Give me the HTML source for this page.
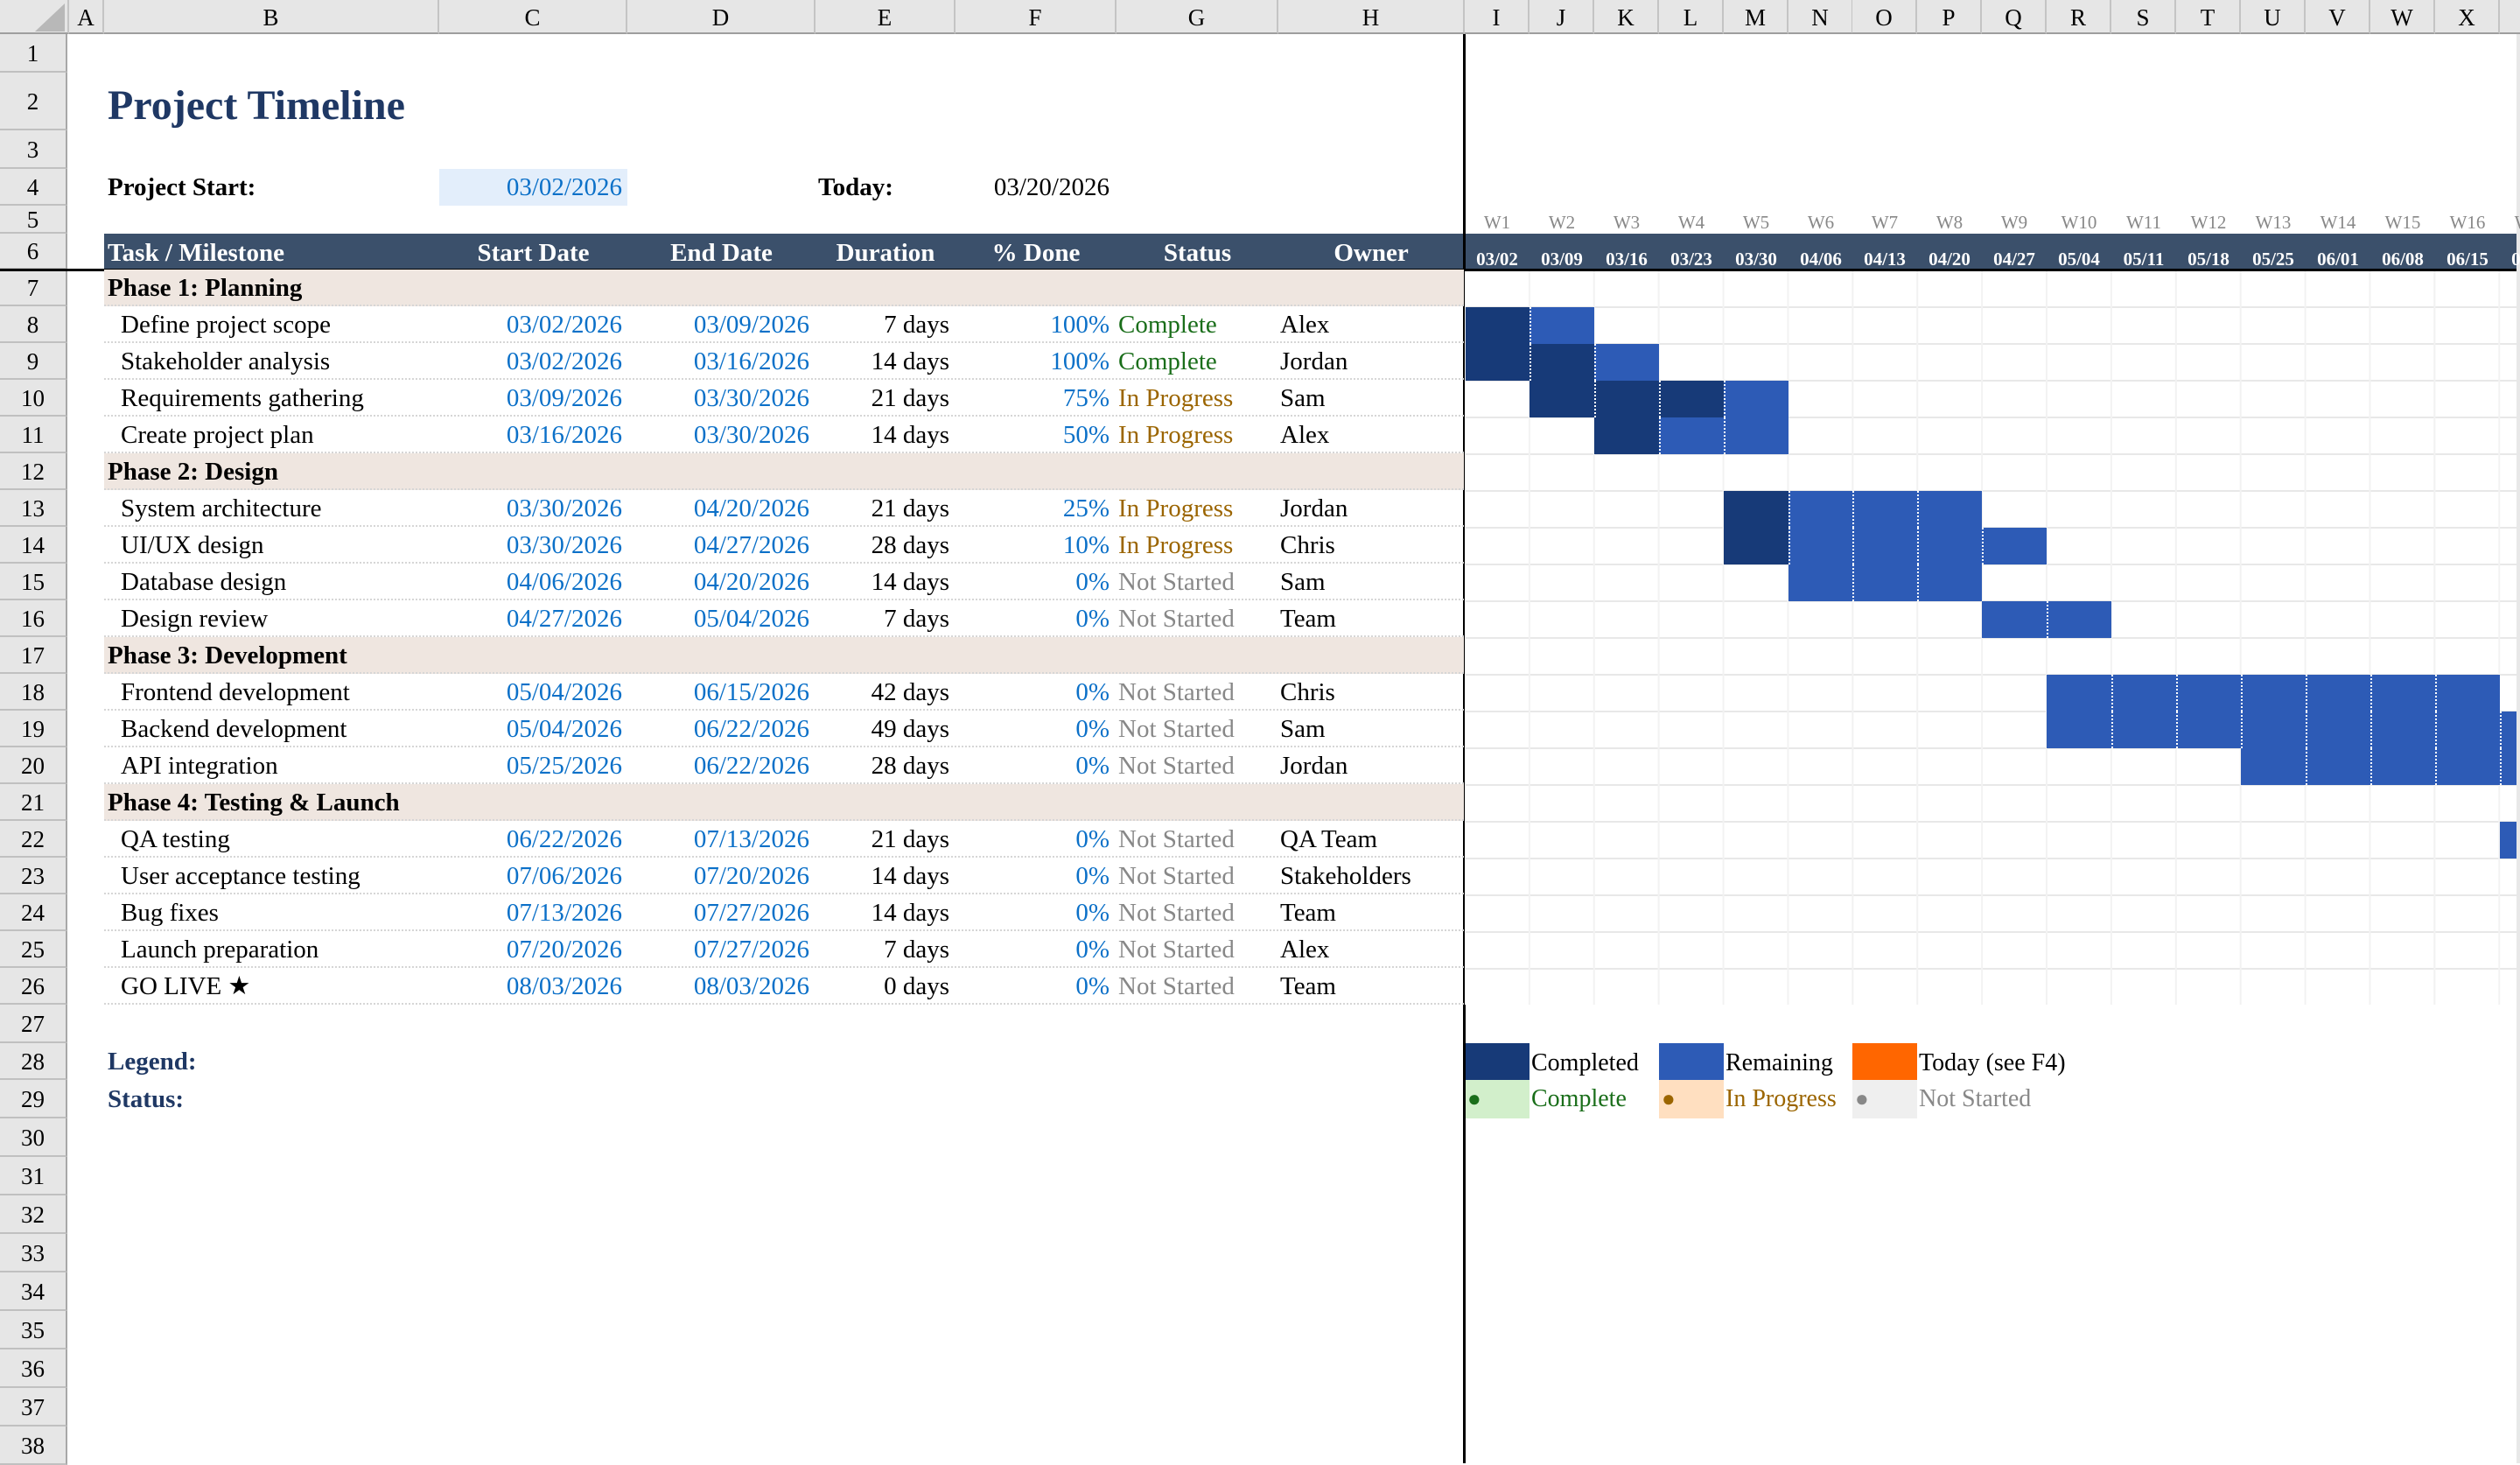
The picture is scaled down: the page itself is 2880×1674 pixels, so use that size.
<!DOCTYPE html>
<html><head><meta charset="utf-8">
<style>
body{margin:0;width:2880px;height:1672px;overflow:hidden;position:relative;background:#fff;font-family:"Liberation Serif",serif;color:#000}
.a{position:absolute;white-space:nowrap}
.ch{position:absolute;top:0;height:37px;line-height:40px;background:#e6e6e6;border-right:2px solid #c4c4c4;border-bottom:2px solid #9e9e9e;text-align:center;font-size:27px;box-sizing:content-box}
.rh{position:absolute;left:0;width:77px;background:#e6e6e6;border-right:2px solid #a8a8a8;border-bottom:2px solid #c0c0c0;text-align:center;font-size:27px;box-sizing:border-box}
.r{position:absolute;left:0;width:2880px;height:42px;font-size:29px;line-height:42px}
.r .c{position:absolute;top:0;white-space:nowrap}
.sep{position:absolute;left:119px;width:1554px;height:0;border-bottom:2px dotted #d6d6d6}
.ph{position:absolute;left:119px;width:1554px;height:42px;background:#efe6e0}
.bl{color:#0b70c8}
.gr{color:#1a6e1a}
.ip{color:#9b6500}
.ns{color:#888}
.d{position:absolute;height:42px;background:#173a78;box-sizing:border-box}
.l{position:absolute;height:42px;background:#2d5bb6;box-sizing:border-box}
.in{border-left:2px dotted #fff}
.w{position:absolute;top:240px;height:28px;line-height:28px;width:74px;text-align:center;font-size:21px;color:#888}
.gd{position:absolute;top:282px;height:28px;line-height:28px;width:74px;text-align:center;font-size:21px;color:#fff;font-weight:bold}
</style></head><body>

<div class="ch" style="left:0;width:77px"></div>
<div class="a" style="left:40px;top:4px;width:0;height:0;border-left:34px solid transparent;border-bottom:32px solid #b8b8b8"></div>
<div class="ch" style="left:79px;width:38px">A</div>
<div class="ch" style="left:119px;width:381px">B</div>
<div class="ch" style="left:502px;width:213px">C</div>
<div class="ch" style="left:717px;width:213px">D</div>
<div class="ch" style="left:932px;width:158px">E</div>
<div class="ch" style="left:1092px;width:182px">F</div>
<div class="ch" style="left:1276px;width:183px">G</div>
<div class="ch" style="left:1461px;width:211px">H</div>
<div class="ch" style="left:1674px;width:72px">I</div>
<div class="ch" style="left:1748px;width:72px">J</div>
<div class="ch" style="left:1822px;width:72px">K</div>
<div class="ch" style="left:1896px;width:72px">L</div>
<div class="ch" style="left:1970px;width:72px">M</div>
<div class="ch" style="left:2044px;width:72px">N</div>
<div class="ch" style="left:2117px;width:72px">O</div>
<div class="ch" style="left:2191px;width:72px">P</div>
<div class="ch" style="left:2265px;width:72px">Q</div>
<div class="ch" style="left:2339px;width:72px">R</div>
<div class="ch" style="left:2413px;width:72px">S</div>
<div class="ch" style="left:2487px;width:72px">T</div>
<div class="ch" style="left:2561px;width:72px">U</div>
<div class="ch" style="left:2635px;width:72px">V</div>
<div class="ch" style="left:2709px;width:72px">W</div>
<div class="ch" style="left:2783px;width:72px">X</div>
<div class="ch" style="left:2857px;width:72px">Y</div>

<div class="rh" style="top:39px;height:44px;line-height:44px">1</div>
<div class="rh" style="top:83px;height:66px;line-height:66px">2</div>
<div class="rh" style="top:149px;height:44px;line-height:44px">3</div>
<div class="rh" style="top:193px;height:42px;line-height:42px">4</div>
<div class="rh" style="top:235px;height:32px;line-height:32px">5</div>
<div class="rh" style="top:267px;height:41px;line-height:41px">6</div>
<div class="rh" style="top:308px;height:42px;line-height:42px">7</div>
<div class="rh" style="top:350px;height:42px;line-height:42px">8</div>
<div class="rh" style="top:392px;height:42px;line-height:42px">9</div>
<div class="rh" style="top:434px;height:42px;line-height:42px">10</div>
<div class="rh" style="top:476px;height:42px;line-height:42px">11</div>
<div class="rh" style="top:518px;height:42px;line-height:42px">12</div>
<div class="rh" style="top:560px;height:42px;line-height:42px">13</div>
<div class="rh" style="top:602px;height:42px;line-height:42px">14</div>
<div class="rh" style="top:644px;height:42px;line-height:42px">15</div>
<div class="rh" style="top:686px;height:42px;line-height:42px">16</div>
<div class="rh" style="top:728px;height:42px;line-height:42px">17</div>
<div class="rh" style="top:770px;height:42px;line-height:42px">18</div>
<div class="rh" style="top:812px;height:42px;line-height:42px">19</div>
<div class="rh" style="top:854px;height:42px;line-height:42px">20</div>
<div class="rh" style="top:896px;height:42px;line-height:42px">21</div>
<div class="rh" style="top:938px;height:42px;line-height:42px">22</div>
<div class="rh" style="top:980px;height:42px;line-height:42px">23</div>
<div class="rh" style="top:1022px;height:42px;line-height:42px">24</div>
<div class="rh" style="top:1064px;height:42px;line-height:42px">25</div>
<div class="rh" style="top:1106px;height:42px;line-height:42px">26</div>
<div class="rh" style="top:1148px;height:44px;line-height:44px">27</div>
<div class="rh" style="top:1192px;height:42px;line-height:42px">28</div>
<div class="rh" style="top:1234px;height:44px;line-height:44px">29</div>
<div class="rh" style="top:1278px;height:44px;line-height:44px">30</div>
<div class="rh" style="top:1322px;height:44px;line-height:44px">31</div>
<div class="rh" style="top:1366px;height:44px;line-height:44px">32</div>
<div class="rh" style="top:1410px;height:44px;line-height:44px">33</div>
<div class="rh" style="top:1454px;height:44px;line-height:44px">34</div>
<div class="rh" style="top:1498px;height:44px;line-height:44px">35</div>
<div class="rh" style="top:1542px;height:44px;line-height:44px">36</div>
<div class="rh" style="top:1586px;height:44px;line-height:44px">37</div>
<div class="rh" style="top:1630px;height:44px;line-height:44px">38</div>

<div class="a" style="left:123px;top:97px;height:48px;line-height:48px;font-size:48px;font-weight:bold;color:#1f3864">Project Timeline</div>
<div class="a" style="left:502px;top:193px;width:215px;height:42px;background:#e3eefb"></div>
<div class="a" style="left:123px;top:193px;height:42px;line-height:42px;font-size:29px;font-weight:bold">Project Start:</div>
<div class="a bl" style="left:502px;top:193px;width:209px;text-align:right;height:42px;line-height:42px;font-size:29px">03/02/2026</div>
<div class="a" style="left:935px;top:193px;height:42px;line-height:42px;font-size:29px;font-weight:bold">Today:</div>
<div class="a" style="left:1092px;top:193px;width:176px;text-align:right;height:42px;line-height:42px;font-size:29px">03/20/2026</div>

<div class="a" style="left:119px;top:267px;width:2761px;height:41px;background:#3b506b"></div>
<div class="a" style="left:0;top:307px;width:2880px;height:3px;background:#000"></div>
<div class="a" style="left:1672px;top:39px;width:3px;height:1633px;background:#000"></div>
<div class="a" style="left:2876px;top:39px;width:4px;height:1633px;background:#e8e8e8"></div>
<div class="r" style="top:268px;height:40px;line-height:42px;color:#fff;font-weight:bold">
<span class="c" style="left:123px">Task / Milestone</span>
<span class="c" style="left:502px;width:215px;text-align:center">Start Date</span>
<span class="c" style="left:717px;width:215px;text-align:center">End Date</span>
<span class="c" style="left:932px;width:160px;text-align:center">Duration</span>
<span class="c" style="left:1092px;width:184px;text-align:center">% Done</span>
<span class="c" style="left:1276px;width:185px;text-align:center">Status</span>
<span class="c" style="left:1461px;width:212px;text-align:center">Owner</span>
</div>

<div class="w" style="left:1674px">W1</div><div class="w" style="left:1748px">W2</div><div class="w" style="left:1822px">W3</div><div class="w" style="left:1896px">W4</div><div class="w" style="left:1970px">W5</div><div class="w" style="left:2044px">W6</div><div class="w" style="left:2117px">W7</div><div class="w" style="left:2191px">W8</div><div class="w" style="left:2265px">W9</div><div class="w" style="left:2339px">W10</div><div class="w" style="left:2413px">W11</div><div class="w" style="left:2487px">W12</div><div class="w" style="left:2561px">W13</div><div class="w" style="left:2635px">W14</div><div class="w" style="left:2709px">W15</div><div class="w" style="left:2783px">W16</div><div class="w" style="left:2857px">W17</div>
<div class="gd" style="left:1674px">03/02</div><div class="gd" style="left:1748px">03/09</div><div class="gd" style="left:1822px">03/16</div><div class="gd" style="left:1896px">03/23</div><div class="gd" style="left:1970px">03/30</div><div class="gd" style="left:2044px">04/06</div><div class="gd" style="left:2117px">04/13</div><div class="gd" style="left:2191px">04/20</div><div class="gd" style="left:2265px">04/27</div><div class="gd" style="left:2339px">05/04</div><div class="gd" style="left:2413px">05/11</div><div class="gd" style="left:2487px">05/18</div><div class="gd" style="left:2561px">05/25</div><div class="gd" style="left:2635px">06/01</div><div class="gd" style="left:2709px">06/08</div><div class="gd" style="left:2783px">06/15</div><div class="gd" style="left:2857px">06/22</div>

<div class="a" style="left:1674px;top:310px;width:1202px;height:838px;background-image:linear-gradient(to right,#f2f2f2 2px,transparent 2px),linear-gradient(to bottom,transparent 40px,#e8e8e8 40px);background-size:73.9px 42px,100% 42px;background-position:-1px 0,0 0"></div>

<div class="ph" style="top:308px"></div>
<div class="ph" style="top:518px"></div>
<div class="ph" style="top:728px"></div>
<div class="ph" style="top:896px"></div>

<div class="sep" style="top:348px"></div><div class="sep" style="top:390px"></div><div class="sep" style="top:432px"></div><div class="sep" style="top:474px"></div><div class="sep" style="top:516px"></div><div class="sep" style="top:558px"></div><div class="sep" style="top:600px"></div><div class="sep" style="top:642px"></div><div class="sep" style="top:684px"></div><div class="sep" style="top:726px"></div><div class="sep" style="top:768px"></div><div class="sep" style="top:810px"></div><div class="sep" style="top:852px"></div><div class="sep" style="top:894px"></div><div class="sep" style="top:936px"></div><div class="sep" style="top:978px"></div><div class="sep" style="top:1020px"></div><div class="sep" style="top:1062px"></div><div class="sep" style="top:1104px"></div><div class="sep" style="top:1146px"></div>

<div class="r" style="top:308px;font-weight:bold"><span class="c" style="left:123px">Phase 1: Planning</span></div>
<div class="r" style="top:350px"><span class="c" style="left:138px">Define project scope</span><span class="c bl" style="left:502px;width:209px;text-align:right">03/02/2026</span><span class="c bl" style="left:717px;width:208px;text-align:right">03/09/2026</span><span class="c" style="left:932px;width:153px;text-align:right">7 days</span><span class="c bl" style="left:1092px;width:176px;text-align:right">100%</span><span class="c gr" style="left:1278px">Complete</span><span class="c" style="left:1463px">Alex</span></div>
<div class="r" style="top:392px"><span class="c" style="left:138px">Stakeholder analysis</span><span class="c bl" style="left:502px;width:209px;text-align:right">03/02/2026</span><span class="c bl" style="left:717px;width:208px;text-align:right">03/16/2026</span><span class="c" style="left:932px;width:153px;text-align:right">14 days</span><span class="c bl" style="left:1092px;width:176px;text-align:right">100%</span><span class="c gr" style="left:1278px">Complete</span><span class="c" style="left:1463px">Jordan</span></div>
<div class="r" style="top:434px"><span class="c" style="left:138px">Requirements gathering</span><span class="c bl" style="left:502px;width:209px;text-align:right">03/09/2026</span><span class="c bl" style="left:717px;width:208px;text-align:right">03/30/2026</span><span class="c" style="left:932px;width:153px;text-align:right">21 days</span><span class="c bl" style="left:1092px;width:176px;text-align:right">75%</span><span class="c ip" style="left:1278px">In Progress</span><span class="c" style="left:1463px">Sam</span></div>
<div class="r" style="top:476px"><span class="c" style="left:138px">Create project plan</span><span class="c bl" style="left:502px;width:209px;text-align:right">03/16/2026</span><span class="c bl" style="left:717px;width:208px;text-align:right">03/30/2026</span><span class="c" style="left:932px;width:153px;text-align:right">14 days</span><span class="c bl" style="left:1092px;width:176px;text-align:right">50%</span><span class="c ip" style="left:1278px">In Progress</span><span class="c" style="left:1463px">Alex</span></div>
<div class="r" style="top:518px;font-weight:bold"><span class="c" style="left:123px">Phase 2: Design</span></div>
<div class="r" style="top:560px"><span class="c" style="left:138px">System architecture</span><span class="c bl" style="left:502px;width:209px;text-align:right">03/30/2026</span><span class="c bl" style="left:717px;width:208px;text-align:right">04/20/2026</span><span class="c" style="left:932px;width:153px;text-align:right">21 days</span><span class="c bl" style="left:1092px;width:176px;text-align:right">25%</span><span class="c ip" style="left:1278px">In Progress</span><span class="c" style="left:1463px">Jordan</span></div>
<div class="r" style="top:602px"><span class="c" style="left:138px">UI/UX design</span><span class="c bl" style="left:502px;width:209px;text-align:right">03/30/2026</span><span class="c bl" style="left:717px;width:208px;text-align:right">04/27/2026</span><span class="c" style="left:932px;width:153px;text-align:right">28 days</span><span class="c bl" style="left:1092px;width:176px;text-align:right">10%</span><span class="c ip" style="left:1278px">In Progress</span><span class="c" style="left:1463px">Chris</span></div>
<div class="r" style="top:644px"><span class="c" style="left:138px">Database design</span><span class="c bl" style="left:502px;width:209px;text-align:right">04/06/2026</span><span class="c bl" style="left:717px;width:208px;text-align:right">04/20/2026</span><span class="c" style="left:932px;width:153px;text-align:right">14 days</span><span class="c bl" style="left:1092px;width:176px;text-align:right">0%</span><span class="c ns" style="left:1278px">Not Started</span><span class="c" style="left:1463px">Sam</span></div>
<div class="r" style="top:686px"><span class="c" style="left:138px">Design review</span><span class="c bl" style="left:502px;width:209px;text-align:right">04/27/2026</span><span class="c bl" style="left:717px;width:208px;text-align:right">05/04/2026</span><span class="c" style="left:932px;width:153px;text-align:right">7 days</span><span class="c bl" style="left:1092px;width:176px;text-align:right">0%</span><span class="c ns" style="left:1278px">Not Started</span><span class="c" style="left:1463px">Team</span></div>
<div class="r" style="top:728px;font-weight:bold"><span class="c" style="left:123px">Phase 3: Development</span></div>
<div class="r" style="top:770px"><span class="c" style="left:138px">Frontend development</span><span class="c bl" style="left:502px;width:209px;text-align:right">05/04/2026</span><span class="c bl" style="left:717px;width:208px;text-align:right">06/15/2026</span><span class="c" style="left:932px;width:153px;text-align:right">42 days</span><span class="c bl" style="left:1092px;width:176px;text-align:right">0%</span><span class="c ns" style="left:1278px">Not Started</span><span class="c" style="left:1463px">Chris</span></div>
<div class="r" style="top:812px"><span class="c" style="left:138px">Backend development</span><span class="c bl" style="left:502px;width:209px;text-align:right">05/04/2026</span><span class="c bl" style="left:717px;width:208px;text-align:right">06/22/2026</span><span class="c" style="left:932px;width:153px;text-align:right">49 days</span><span class="c bl" style="left:1092px;width:176px;text-align:right">0%</span><span class="c ns" style="left:1278px">Not Started</span><span class="c" style="left:1463px">Sam</span></div>
<div class="r" style="top:854px"><span class="c" style="left:138px">API integration</span><span class="c bl" style="left:502px;width:209px;text-align:right">05/25/2026</span><span class="c bl" style="left:717px;width:208px;text-align:right">06/22/2026</span><span class="c" style="left:932px;width:153px;text-align:right">28 days</span><span class="c bl" style="left:1092px;width:176px;text-align:right">0%</span><span class="c ns" style="left:1278px">Not Started</span><span class="c" style="left:1463px">Jordan</span></div>
<div class="r" style="top:896px;font-weight:bold"><span class="c" style="left:123px">Phase 4: Testing &amp; Launch</span></div>
<div class="r" style="top:938px"><span class="c" style="left:138px">QA testing</span><span class="c bl" style="left:502px;width:209px;text-align:right">06/22/2026</span><span class="c bl" style="left:717px;width:208px;text-align:right">07/13/2026</span><span class="c" style="left:932px;width:153px;text-align:right">21 days</span><span class="c bl" style="left:1092px;width:176px;text-align:right">0%</span><span class="c ns" style="left:1278px">Not Started</span><span class="c" style="left:1463px">QA Team</span></div>
<div class="r" style="top:980px"><span class="c" style="left:138px">User acceptance testing</span><span class="c bl" style="left:502px;width:209px;text-align:right">07/06/2026</span><span class="c bl" style="left:717px;width:208px;text-align:right">07/20/2026</span><span class="c" style="left:932px;width:153px;text-align:right">14 days</span><span class="c bl" style="left:1092px;width:176px;text-align:right">0%</span><span class="c ns" style="left:1278px">Not Started</span><span class="c" style="left:1463px">Stakeholders</span></div>
<div class="r" style="top:1022px"><span class="c" style="left:138px">Bug fixes</span><span class="c bl" style="left:502px;width:209px;text-align:right">07/13/2026</span><span class="c bl" style="left:717px;width:208px;text-align:right">07/27/2026</span><span class="c" style="left:932px;width:153px;text-align:right">14 days</span><span class="c bl" style="left:1092px;width:176px;text-align:right">0%</span><span class="c ns" style="left:1278px">Not Started</span><span class="c" style="left:1463px">Team</span></div>
<div class="r" style="top:1064px"><span class="c" style="left:138px">Launch preparation</span><span class="c bl" style="left:502px;width:209px;text-align:right">07/20/2026</span><span class="c bl" style="left:717px;width:208px;text-align:right">07/27/2026</span><span class="c" style="left:932px;width:153px;text-align:right">7 days</span><span class="c bl" style="left:1092px;width:176px;text-align:right">0%</span><span class="c ns" style="left:1278px">Not Started</span><span class="c" style="left:1463px">Alex</span></div>
<div class="r" style="top:1106px"><span class="c" style="left:138px">GO LIVE ★</span><span class="c bl" style="left:502px;width:209px;text-align:right">08/03/2026</span><span class="c bl" style="left:717px;width:208px;text-align:right">08/03/2026</span><span class="c" style="left:932px;width:153px;text-align:right">0 days</span><span class="c bl" style="left:1092px;width:176px;text-align:right">0%</span><span class="c ns" style="left:1278px">Not Started</span><span class="c" style="left:1463px">Team</span></div>

<div class="d" style="left:1675px;top:351px;width:73px"></div><div class="l in" style="left:1748px;top:351px;width:74px"></div>
<div class="d" style="left:1675px;top:393px;width:73px"></div><div class="d in" style="left:1748px;top:393px;width:74px"></div><div class="l in" style="left:1822px;top:393px;width:74px"></div>
<div class="d" style="left:1748px;top:435px;width:74px"></div><div class="d in" style="left:1822px;top:435px;width:74px"></div><div class="d in" style="left:1896px;top:435px;width:74px"></div><div class="l in" style="left:1970px;top:435px;width:74px"></div>
<div class="d" style="left:1822px;top:477px;width:74px"></div><div class="l in" style="left:1896px;top:477px;width:74px"></div><div class="l in" style="left:1970px;top:477px;width:74px"></div>
<div class="d" style="left:1970px;top:561px;width:74px"></div><div class="l in" style="left:2044px;top:561px;width:73px"></div><div class="l in" style="left:2117px;top:561px;width:74px"></div><div class="l in" style="left:2191px;top:561px;width:74px"></div>
<div class="d" style="left:1970px;top:603px;width:74px"></div><div class="l in" style="left:2044px;top:603px;width:73px"></div><div class="l in" style="left:2117px;top:603px;width:74px"></div><div class="l in" style="left:2191px;top:603px;width:74px"></div><div class="l in" style="left:2265px;top:603px;width:74px"></div>
<div class="l" style="left:2044px;top:645px;width:73px"></div><div class="l in" style="left:2117px;top:645px;width:74px"></div><div class="l in" style="left:2191px;top:645px;width:74px"></div>
<div class="l" style="left:2265px;top:687px;width:74px"></div><div class="l in" style="left:2339px;top:687px;width:74px"></div>
<div class="l" style="left:2339px;top:771px;width:74px"></div><div class="l in" style="left:2413px;top:771px;width:74px"></div><div class="l in" style="left:2487px;top:771px;width:74px"></div><div class="l in" style="left:2561px;top:771px;width:74px"></div><div class="l in" style="left:2635px;top:771px;width:74px"></div><div class="l in" style="left:2709px;top:771px;width:74px"></div><div class="l in" style="left:2783px;top:771px;width:74px"></div>
<div class="l" style="left:2339px;top:813px;width:74px"></div><div class="l in" style="left:2413px;top:813px;width:74px"></div><div class="l in" style="left:2487px;top:813px;width:74px"></div><div class="l in" style="left:2561px;top:813px;width:74px"></div><div class="l in" style="left:2635px;top:813px;width:74px"></div><div class="l in" style="left:2709px;top:813px;width:74px"></div><div class="l in" style="left:2783px;top:813px;width:74px"></div><div class="l in" style="left:2857px;top:813px;width:19px"></div>
<div class="l" style="left:2561px;top:855px;width:74px"></div><div class="l in" style="left:2635px;top:855px;width:74px"></div><div class="l in" style="left:2709px;top:855px;width:74px"></div><div class="l in" style="left:2783px;top:855px;width:74px"></div><div class="l in" style="left:2857px;top:855px;width:19px"></div>
<div class="l" style="left:2857px;top:939px;width:19px"></div>

<div class="a" style="left:123px;top:1192px;height:42px;line-height:42px;font-size:29px;font-weight:bold;color:#1f3864">Legend:</div>
<div class="a" style="left:123px;top:1234px;height:44px;line-height:44px;font-size:29px;font-weight:bold;color:#1f3864">Status:</div>
<div class="a" style="left:1675px;top:1192px;width:73px;height:42px;background:#173a78"></div>
<div class="a" style="left:1750px;top:1192px;height:42px;line-height:46px;font-size:28px">Completed</div>
<div class="a" style="left:1896px;top:1192px;width:74px;height:42px;background:#2d5bb6"></div>
<div class="a" style="left:1972px;top:1192px;height:42px;line-height:46px;font-size:28px">Remaining</div>
<div class="a" style="left:2117px;top:1192px;width:74px;height:42px;background:#ff6600"></div>
<div class="a" style="left:2193px;top:1192px;height:42px;line-height:46px;font-size:28px">Today (see F4)</div>
<div class="a" style="left:1675px;top:1234px;width:73px;height:44px;background:#d2efcb"></div>
<div class="a gr" style="left:1677px;top:1234px;height:44px;line-height:44px;font-size:26px">●</div>
<div class="a gr" style="left:1750px;top:1234px;height:44px;line-height:44px;font-size:28px">Complete</div>
<div class="a" style="left:1896px;top:1234px;width:74px;height:44px;background:#ffdfc0"></div>
<div class="a ip" style="left:1899px;top:1234px;height:44px;line-height:44px;font-size:26px">●</div>
<div class="a ip" style="left:1972px;top:1234px;height:44px;line-height:44px;font-size:28px">In Progress</div>
<div class="a" style="left:2117px;top:1234px;width:74px;height:44px;background:#efefef"></div>
<div class="a ns" style="left:2120px;top:1234px;height:44px;line-height:44px;font-size:26px">●</div>
<div class="a ns" style="left:2193px;top:1234px;height:44px;line-height:44px;font-size:28px">Not Started</div>

</body></html>
